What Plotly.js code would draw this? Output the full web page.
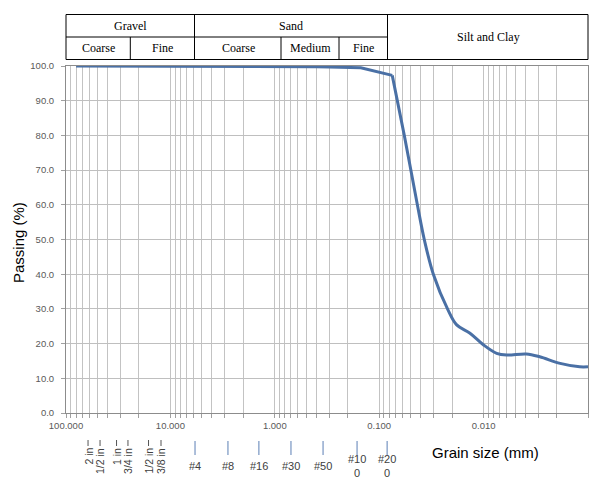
<!DOCTYPE html>
<html>
<head>
<meta charset="utf-8">
<script src="https://cdn.plot.ly/plotly-3.0.1.min.js"></script>
<style>html,body{margin:0;padding:0;background:#fff;}#chart{width:599px;height:479px;}</style>
</head>
<body>
<div id="chart"></div>
<script>
// Grain size distribution
// sieve part (straight segments)
var sieveSize    = [80, 50, 37.5, 25, 19, 12.5, 9.5, 4.75, 2.36, 1.18, 0.6, 0.4, 0.3, 0.15, 0.075];
var sievePassing = [100, 100, 100, 100, 100, 100, 100, 100, 100, 100, 99.9, 99.8, 99.7, 99.5, 97.3];
// hydrometer part (smoothed)
var hydroSize    = [0.075, 0.0575, 0.0431, 0.0370, 0.0303, 0.0220, 0.0181, 0.0135, 0.0100, 0.0075, 0.0060, 0.0039, 0.0029, 0.00185, 0.0012, 0.001];
var hydroPassing = [97.3, 80.0, 60.0, 50.0, 40.0, 29.8, 25.4, 23.0, 19.6, 17.2, 16.7, 17.0, 16.2, 14.3, 13.3, 13.3];

// Axis ticks
var yTickVals = [0, 10, 20, 30, 40, 50, 60, 70, 80, 90, 100];
var decadeVals = [100, 10, 1, 0.1, 0.01, 0.001];
var decadeText = ['100.000', '10.000', '1.000', '0.100', '0.010', '0.001'];

// Sieve labels under the axis (positions as drawn, in mm)
var inchLabels = ['2 in', '1/2 in', '1 in', '3/4 in', '1/2 in', '3/8 in'];
var inchPos    = [61.5, 47.2, 32.8, 25.5, 16.2, 12.3];
var sieveLabels = ['#4', '#8', '#16', '#30', '#50', '#10<br>0', '#20<br>0'];
var sievePos    = [5.81, 2.81, 1.42, 0.70, 0.345, 0.163, 0.084];

// Soil classification header
var topGroups = ['Gravel', 'Sand', 'Silt and Clay'];
var subGroups = ['Coarse', 'Fine', 'Coarse', 'Medium', 'Fine'];

// layout helpers (pixel -> paper)
var L = 66, R = 588, T = 66, B = 413;
function px(x){ return (x - L) / (R - L); }
function py(y){ return (B - y) / (B - T); }

// grid tick values: 1..9 per decade
var gridVals = [];
for (var e = 2; e >= -2; e--) {
  for (var m = 9; m >= 1; m--) {
    gridVals.push(+(m * Math.pow(10, e - 1)).toPrecision(3));
  }
}
gridVals.unshift(100);
gridVals.push(0.001);
var gridText = gridVals.map(function(v){
  var i = decadeVals.findIndex(function(d){ return Math.abs(d - v) / d < 1e-6; });
  return i >= 0 ? decadeText[i] : '';
});

var shapes = [];
var lineBlack = {color: '#000', width: 1};
var tTop = 14.5, tMid = 37, tBot = 59.5;
shapes.push({type:'rect', xref:'paper', yref:'paper', x0:px(66), x1:px(588), y0:py(tTop), y1:py(tBot), line:lineBlack});
shapes.push({type:'line', xref:'paper', yref:'paper', x0:px(66), x1:px(387.5), y0:py(tMid), y1:py(tMid), line:lineBlack});
[194.5, 387.5].forEach(function(x){
  shapes.push({type:'line', xref:'paper', yref:'paper', x0:px(x), x1:px(x), y0:py(tTop), y1:py(tBot), line:lineBlack});
});
[130.3, 281, 339].forEach(function(x){
  shapes.push({type:'line', xref:'paper', yref:'paper', x0:px(x), x1:px(x), y0:py(tMid), y1:py(tBot), line:lineBlack});
});

var ann = [];
var serif = {family: '"Liberation Serif", "Times New Roman", serif', size: 12, color: '#000'};
var topX = [130, 291, 488], topY = [25.5, 25.5, 37];
topGroups.forEach(function(t, i){
  ann.push({text:t, xref:'paper', yref:'paper', x:px(topX[i]), y:py(topY[i]), xanchor:'center', yanchor:'middle', showarrow:false, font:serif});
});
var subX = [98, 162, 238, 310, 363];
subGroups.forEach(function(t, i){
  ann.push({text:t, xref:'paper', yref:'paper', x:px(subX[i]), y:py(48.5), xanchor:'center', yanchor:'middle', showarrow:false, font:serif});
});

var markColor = '#5b7fb5';
var smallFont = {family: '"Liberation Sans", Arial, sans-serif', size: 10.5, color: '#404040'};
inchPos.forEach(function(p, i){
  // shapes on a log axis take data values; annotations take log10 values
  shapes.push({type:'line', xref:'x', yref:'paper', x0:p, x1:p, y0:py(440), y1:py(446), line:{color:'#555', width:1}});
  ann.push({text:inchLabels[i], xref:'x', yref:'paper', x:Math.log10(p), y:py(446), xanchor:'center', yanchor:'top', textangle:-90, showarrow:false, font:smallFont});
});
var sieveFont = {family: '"Liberation Sans", Arial, sans-serif', size: 11, color: '#404040'};
sievePos.forEach(function(p, i){
  shapes.push({type:'line', xref:'x', yref:'paper', x0:p, x1:p, y0:py(441), y1:py(455), line:{color:markColor, width:1}});
  ann.push({text:sieveLabels[i], xref:'x', yref:'paper', x:Math.log10(p), y:py(466), xanchor:'center', yanchor:'middle', showarrow:false, font:sieveFont});
});

ann.push({text:'Grain size (mm)', xref:'paper', yref:'paper', x:px(485), y:py(452), xanchor:'center', yanchor:'middle', showarrow:false,
  font:{family:'"Liberation Sans", Arial, sans-serif', size:15, color:'#000'}});
ann.push({text:'Passing (%)', xref:'paper', yref:'paper', x:px(18), y:py(243), xanchor:'center', yanchor:'middle', textangle:-90, showarrow:false,
  font:{family:'"Liberation Sans", Arial, sans-serif', size:15, color:'#000'}});

var curveColor = '#4a70a5';
var traces = [
  {x: sieveSize, y: sievePassing, type: 'scatter', mode: 'lines',
   line: {color: curveColor, width: 3, shape: 'linear'}, showlegend: false},
  {x: hydroSize, y: hydroPassing, type: 'scatter', mode: 'lines',
   line: {color: curveColor, width: 3, shape: 'spline', smoothing: 1}, showlegend: false}
];

var tickFont = {family: '"Liberation Sans", Arial, sans-serif', size: 9.5, color: '#595959'};
var layout = {
  width: 599, height: 479,
  margin: {l: L, r: 599 - R, t: T, b: 479 - B},
  paper_bgcolor: '#fff', plot_bgcolor: '#fff',
  showlegend: false,
  xaxis: {
    type: 'log', range: [2, -3], tickmode: 'array', tickvals: gridVals, ticktext: gridText,
    showgrid: true, gridcolor: '#c3c3c3', gridwidth: 1,
    ticks: 'outside', ticklen: 4, tickcolor: '#a0a0a0',
    showline: true, linecolor: '#8c8c8c', mirror: true, zeroline: false,
    tickfont: tickFont, tickangle: 0
  },
  yaxis: {
    range: [0, 100], tickmode: 'array', tickvals: yTickVals,
    ticktext: yTickVals.map(function(v){ return v.toFixed(1); }),
    showgrid: true, gridcolor: '#bfbfbf', gridwidth: 1,
    ticks: 'outside', ticklen: 4, tickcolor: '#a0a0a0', ticklabelstandoff: 5,
    showline: true, linecolor: '#8c8c8c', mirror: true, zeroline: false,
    tickfont: tickFont
  },
  shapes: shapes,
  annotations: ann
};

Plotly.newPlot('chart', traces, layout, {displayModeBar: false, staticPlot: true});
</script>
</body>
</html>
